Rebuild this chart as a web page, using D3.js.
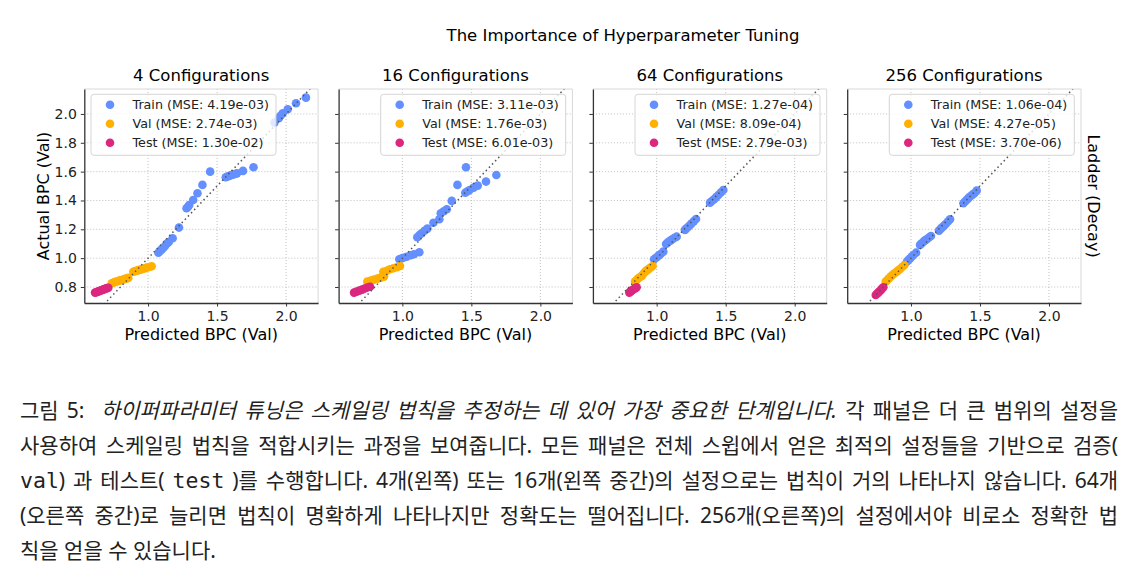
<!DOCTYPE html>
<html>
<head>
<meta charset="utf-8">
<script src="https://cdn.jsdelivr.net/npm/d3@7"></script>
<style>
body { margin: 0; background: #fff; }
#chart { position: absolute; left: 0; top: 0; }
#caption {
    position: absolute; left: 20px; top: 393px; width: 1098px;
    font-family: "Noto Sans", "Noto Sans CJK KR", sans-serif;
    font-size: 21px; color: #222;
}
#caption div { height: 35px; line-height: 35px; white-space: nowrap; text-align: justify; text-align-last: justify; }
#caption div.last { text-align-last: left; }
#caption code { font-family: "DejaVu Sans Mono", monospace; font-size: 21.5px; }
</style>
</head>
<body>
<svg id="chart"></svg>
<div id="caption">
    <div>그림 5:&nbsp; <i>하이퍼파라미터 튜닝은 스케일링 법칙을 추정하는 데 있어 가장 중요한 단계입니다.</i> 각 패널은 더 큰 범위의 설정을</div>
    <div>사용하여 스케일링 법칙을 적합시키는 과정을 보여줍니다. 모든 패널은 전체 스윕에서 얻은 최적의 설정들을 기반으로 검증(</div>
    <div><code>val</code>) 과 테스트( <code>test</code> )를 수행합니다. 4개(왼쪽) 또는 16개(왼쪽 중간)의 설정으로는 법칙이 거의 나타나지 않습니다. 64개</div>
    <div>(오른쪽 중간)로 늘리면 법칙이 명확하게 나타나지만 정확도는 떨어집니다. 256개(오른쪽)의 설정에서야 비로소 정확한 법</div>
    <div class="last">칙을 얻을 수 있습니다.</div>
</div>
<script>
// values: [predicted, actual]
const panelTitles = ["4 Configurations", "16 Configurations", "64 Configurations", "256 Configurations"];
const trainMSE = ["4.19e-03", "3.11e-03", "1.27e-04", "1.06e-04"];
const valMSE = ["2.74e-03", "1.76e-03", "8.09e-04", "4.27e-05"];
const testMSE = ["1.30e-02", "6.01e-03", "2.79e-03", "3.70e-06"];
const xTicks = [1.0, 1.5, 2.0];
const yTicks = [0.8, 1.0, 1.2, 1.4, 1.6, 1.8, 2.0];

const train4 = [[1.075,1.038],[1.087,1.050],[1.099,1.061],[1.111,1.072],[1.123,1.084],[1.139,1.103],[1.150,1.112],
    [1.178,1.138],[1.224,1.212],[1.279,1.346],[1.290,1.357],[1.298,1.369],[1.327,1.403],[1.358,1.450],[1.394,1.508],
    [1.450,1.600],[1.563,1.561],[1.575,1.566],[1.587,1.570],[1.600,1.575],[1.615,1.579],[1.630,1.584],[1.644,1.588],
    [1.688,1.605],[1.764,1.630],[1.916,1.940],[1.947,1.970],[1.960,1.988],[1.976,2.005],[2.012,2.032],[2.072,2.074],[2.144,2.113]];
const val4 = [[0.737,0.826],[0.749,0.830],[0.760,0.835],[0.772,0.838],[0.784,0.842],[0.797,0.846],[0.809,0.849],
    [0.821,0.852],[0.833,0.856],[0.845,0.859],[0.857,0.863],[0.893,0.906],[0.906,0.910],[0.918,0.913],[0.930,0.917],
    [0.942,0.920],[0.954,0.924],[0.966,0.927],[0.978,0.930],[0.990,0.934],[1.008,0.939],[1.026,0.944]];
const test4 = [[0.616,0.761],[0.626,0.764],[0.635,0.768],[0.645,0.771],[0.654,0.775],[0.664,0.778],[0.674,0.782],
    [0.684,0.785],[0.693,0.789],[0.703,0.792],[0.712,0.795]];

const train16 = [[0.978,0.992],[0.993,0.998],[1.007,1.003],[1.031,1.010],[1.060,1.020],[1.084,1.027],[1.123,1.041],
    [1.108,1.145],[1.124,1.160],[1.140,1.173],[1.160,1.190],[1.181,1.205],[1.225,1.246],[1.268,1.270],[1.278,1.311],
    [1.300,1.325],[1.322,1.339],[1.358,1.397],[1.399,1.508],[1.461,1.630],[1.456,1.454],[1.472,1.464],[1.487,1.473],
    [1.516,1.489],[1.546,1.503],[1.606,1.531],[1.681,1.577]];
const val16 = [[0.746,0.837],[0.771,0.844],[0.795,0.851],[0.819,0.858],[0.843,0.865],[0.867,0.872],[0.862,0.906],
    [0.887,0.913],[0.910,0.923],[0.934,0.930],[0.959,0.937],[0.983,0.946]];
const test16 = [[0.650,0.761],[0.669,0.768],[0.688,0.775],[0.708,0.782],[0.727,0.789],[0.746,0.796],[0.766,0.802]];

const train64 = [[0.981,0.992],[0.993,1.001],[1.005,1.010],[1.017,1.020],[1.029,1.029],[1.048,1.045],
    [1.068,1.098],[1.080,1.108],[1.092,1.117],[1.104,1.125],[1.116,1.133],[1.130,1.141],[1.145,1.149],
    [1.205,1.196],[1.217,1.207],[1.229,1.218],[1.242,1.230],[1.254,1.242],[1.270,1.257],[1.285,1.272],
    [1.387,1.385],[1.400,1.396],[1.416,1.408],[1.431,1.423],[1.447,1.438],[1.465,1.455],[1.483,1.473]];
const val64 = [[0.843,0.837],[0.855,0.849],[0.867,0.861],[0.880,0.869],[0.892,0.877],[0.904,0.892],[0.916,0.906],
    [0.928,0.915],[0.940,0.924],[0.956,0.935],[0.971,0.945]];
const test64 = [[0.802,0.761],[0.810,0.768],[0.819,0.775],[0.828,0.781],[0.836,0.786],[0.846,0.792],[0.855,0.798]];

const train256 = [[0.971,0.976],[0.983,0.988],[0.995,0.999],[1.006,1.011],[1.017,1.022],[1.037,1.038],
    [1.066,1.092],[1.078,1.103],[1.090,1.114],[1.102,1.123],[1.114,1.131],[1.130,1.143],[1.145,1.154],
    [1.203,1.191],[1.215,1.203],[1.227,1.214],[1.240,1.226],[1.252,1.237],[1.268,1.254],[1.283,1.270],
    [1.380,1.381],[1.392,1.393],[1.404,1.404],[1.416,1.416],[1.428,1.427],[1.444,1.439],[1.459,1.450],[1.476,1.468]];
const val256 = [[0.817,0.837],[0.829,0.849],[0.841,0.861],[0.853,0.872],[0.865,0.883],[0.881,0.895],[0.897,0.906],
    [0.909,0.916],[0.921,0.925],[0.936,0.939],[0.952,0.953]];
const test256 = [[0.745,0.745],[0.754,0.753],[0.763,0.761],[0.773,0.771],[0.783,0.780],[0.791,0.789],[0.800,0.798]];

const trainSets = [train4, train16, train64, train256];
const valSets = [val4, val16, val64, val256];
const testSets = [test4, test16, test64, test256];

document.addEventListener('DOMContentLoaded', function () {
    const width = 1137, height = 370;
    const svg = d3.select("#chart").attr("width", width).attr("height", height)
        .style("font-family", "'DejaVu Sans', sans-serif");

    const colors = { train: "#648FFF", val: "#FFB000", test: "#DC267F" };
    const left0 = 84.3, step = 254.3, panelW = 233.8, top = 89, panelH = 214;

    const x = d3.scaleLinear().domain([0.538, 2.232]).range([0, panelW]);
    const y = d3.scaleLinear().domain([0.689, 2.173]).range([panelH, 0]);

    svg.append("text")
        .attr("x", 623).attr("y", 41)
        .attr("text-anchor", "middle").attr("font-size", 16.5)
        .text("The Importance of Hyperparameter Tuning");

    panelTitles.forEach((title, i) => {
        const g = svg.append("g").attr("transform", `translate(${left0 + i * step},${top})`);

        g.append("clipPath").attr("id", "clip" + i)
            .append("rect").attr("width", panelW).attr("height", panelH);

        // grid
        g.append("g").selectAll("line").data(xTicks).enter().append("line")
            .attr("x1", d => x(d)).attr("x2", d => x(d))
            .attr("y1", 0).attr("y2", panelH)
            .attr("stroke", "#b0b0b0").attr("stroke-width", 0.8).attr("stroke-dasharray", "1,2");
        g.append("g").selectAll("line").data(yTicks).enter().append("line")
            .attr("x1", 0).attr("x2", panelW)
            .attr("y1", d => y(d)).attr("y2", d => y(d))
            .attr("stroke", "#b0b0b0").attr("stroke-width", 0.8).attr("stroke-dasharray", "1,2");

        const plot = g.append("g").attr("clip-path", `url(#clip${i})`);
        [[trainSets[i], colors.train], [valSets[i], colors.val], [testSets[i], colors.test]].forEach(([pts, c]) => {
            plot.append("g").selectAll("circle").data(pts).enter().append("circle")
                .attr("cx", d => x(d[0])).attr("cy", d => y(d[1]))
                .attr("r", 4.3).attr("fill", c);
        });

        // y = x reference
        plot.append("line")
            .attr("x1", x(0.5)).attr("y1", y(0.5))
            .attr("x2", x(2.3)).attr("y2", y(2.3))
            .attr("stroke", "#555").attr("stroke-width", 1.5)
            .attr("stroke-dasharray", "1.5,3");

        // spines
        g.append("line").attr("x1", 0).attr("x2", panelW).attr("y1", 0).attr("y2", 0)
            .attr("stroke", "#d8d8d8").attr("stroke-width", 1);
        g.append("line").attr("x1", panelW).attr("x2", panelW).attr("y1", 0).attr("y2", panelH)
            .attr("stroke", "#d8d8d8").attr("stroke-width", 1);

        const xAxis = g.append("g").attr("transform", `translate(0,${panelH})`)
            .call(d3.axisBottom(x).tickValues(xTicks).tickFormat(d3.format(".1f")).tickSize(3.5).tickPadding(5).tickSizeOuter(0));
        const yAxis = g.append("g")
            .call(d3.axisLeft(y).tickValues(yTicks).tickFormat(i === 0 ? d3.format(".1f") : () => "")
                .tickSize(3.5).tickPadding(4).tickSizeOuter(0));
        [xAxis, yAxis].forEach(a => {
            a.select(".domain").attr("stroke", "#333").attr("stroke-width", 1.3);
            a.selectAll(".tick line").attr("stroke", "#333");
            a.selectAll("text").attr("font-size", 14).attr("fill", "#222")
                .style("font-family", "'DejaVu Sans', sans-serif");
        });

        g.append("text")
            .attr("x", panelW / 2).attr("y", -8)
            .attr("text-anchor", "middle").attr("font-size", 16.5)
            .text(title);

        g.append("text")
            .attr("x", panelW / 2).attr("y", panelH + 37)
            .attr("text-anchor", "middle").attr("font-size", 16)
            .text("Predicted BPC (Val)");

        // legend: upper left for the first panel, upper right for the rest
        const legW = 185, legH = 61;
        const lx = i === 0 ? 6.7 : panelW - 6.7 - legW;
        const leg = g.append("g").attr("transform", `translate(${lx},5.3)`);
        leg.append("rect").attr("width", legW).attr("height", legH).attr("rx", 3)
            .attr("fill", "#fff").attr("fill-opacity", 0.8)
            .attr("stroke", "#d0d0d0").attr("stroke-width", 0.9);
        const items = [
            ["Train (MSE: " + trainMSE[i] + ")", colors.train],
            ["Val (MSE: " + valMSE[i] + ")", colors.val],
            ["Test (MSE: " + testMSE[i] + ")", colors.test]
        ];
        items.forEach(([label, c], k) => {
            const cy = 10.5 + k * 19;
            leg.append("circle").attr("cx", 19).attr("cy", cy).attr("r", 4.3).attr("fill", c);
            leg.append("text").attr("x", 41.5).attr("y", cy + 4.5)
                .attr("font-size", 12.7).attr("fill", "#222").text(label);
        });
    });

    svg.append("text")
        .attr("transform", `translate(49,${top + panelH / 2}) rotate(-90)`)
        .attr("text-anchor", "middle").attr("font-size", 16)
        .text("Actual BPC (Val)");

    svg.append("text")
        .attr("transform", `translate(1088,${top + panelH / 2}) rotate(90)`)
        .attr("text-anchor", "middle").attr("font-size", 16)
        .text("Ladder (Decay)");
});
</script>
</body>
</html>
